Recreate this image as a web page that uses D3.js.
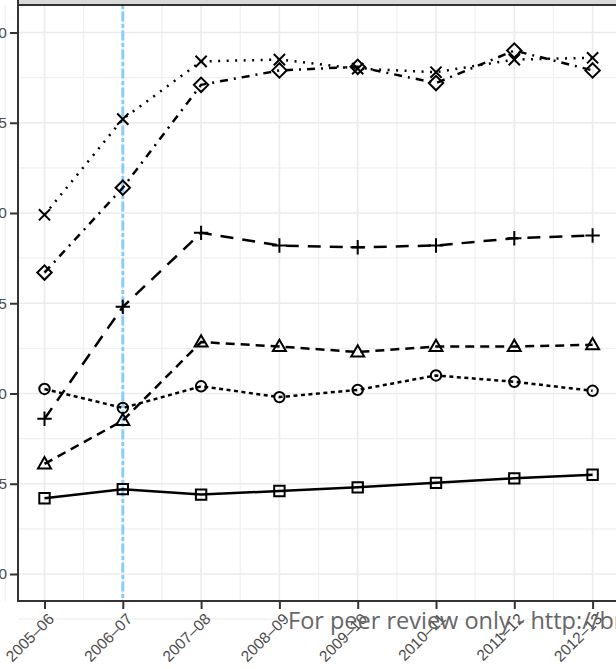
<!DOCTYPE html>
<html>
<head>
<meta charset="utf-8">
<script src="https://cdn.jsdelivr.net/npm/d3@7"></script>
<style>
  body { margin: 0; background: #fff; }
  svg { display: block; }
</style>
</head>
<body>
<script>
// data
var periods = ["2005–06", "2006–07", "2007–08", "2008–09", "2009–10", "2010–11", "2011–12", "2012–13"];
var yTicks = [0, 5, 10, 15, 20, 25, 30];
var markedPeriod = "2006–07";

var crossVals    = [19.9, 25.2, 28.4, 28.5, 28.0, 27.8, 28.5, 28.6];
var diamondVals  = [16.7, 21.4, 27.1, 27.9, 28.1, 27.2, 29.0, 27.9];
var plusVals     = [8.6, 14.8, 18.9, 18.2, 18.1, 18.2, 18.6, 18.75];
var triangleVals = [6.1, 8.5, 12.85, 12.6, 12.3, 12.6, 12.6, 12.7];
var circleVals   = [10.25, 9.2, 10.4, 9.8, 10.2, 11.0, 10.65, 10.15];
var squareVals   = [4.2, 4.7, 4.4, 4.6, 4.8, 5.05, 5.3, 5.5];

var watermark = "For peer review only - http://bmjopen.bmj.com/site/about/guidelines.xhtml";

window.onload = function(){

	var W = 616, H = 669;
	var panel = { left: 18, top: 5, bottom: 601 };
	var labelFont = "'Liberation Sans', Arial, sans-serif";

	var svg = d3.select("body").append("svg")
		.attr("width", W)
		.attr("height", H);

	var x = d3.scaleLinear().domain([0, periods.length - 1]).range([44.5, 592.6]);
	var y = d3.scaleLinear().domain([0, 30]).range([574, 32.5]);

	// minor gridlines at midpoints
	var minorX = d3.range(-0.5, periods.length + 0.5, 1);
	var minorY = d3.range(-2.5, 33, 5);

	var grid = svg.append("g");
	grid.selectAll("line.mx").data(minorX).enter().append("line")
		.attr("x1", function(d){ return x(d); }).attr("x2", function(d){ return x(d); })
		.attr("y1", panel.top).attr("y2", panel.bottom)
		.attr("stroke", "#f0f0f0").attr("stroke-width", 1.2);
	grid.selectAll("line.my").data(minorY).enter().append("line")
		.attr("y1", function(d){ return y(d); }).attr("y2", function(d){ return y(d); })
		.attr("x1", panel.left).attr("x2", W)
		.attr("stroke", "#f0f0f0").attr("stroke-width", 1.2);
	grid.selectAll("line.gx").data(periods).enter().append("line")
		.attr("x1", function(d, i){ return x(i); }).attr("x2", function(d, i){ return x(i); })
		.attr("y1", panel.top).attr("y2", panel.bottom)
		.attr("stroke", "#ebebeb").attr("stroke-width", 1.6);
	grid.selectAll("line.gy").data(yTicks).enter().append("line")
		.attr("y1", function(d){ return y(d); }).attr("y2", function(d){ return y(d); })
		.attr("x1", panel.left).attr("x2", W)
		.attr("stroke", "#ebebeb").attr("stroke-width", 1.6);

	// marked year
	var mi = periods.indexOf(markedPeriod);
	svg.append("line")
		.attr("x1", x(mi)).attr("x2", x(mi))
		.attr("y1", panel.top).attr("y2", panel.bottom)
		.attr("stroke", "#87cefa").attr("stroke-width", 3)
		.attr("stroke-dasharray", "4 2.5 10 2.5");

	var series = [
		{ vals: squareVals,   shape: "square",   dash: null },
		{ vals: circleVals,   shape: "circle",   dash: "4 3.5" },
		{ vals: triangleVals, shape: "triangle", dash: "9 6" },
		{ vals: plusVals,     shape: "plus",     dash: "13 9" },
		{ vals: diamondVals,  shape: "diamond",  dash: "8 6 2 6" },
		{ vals: crossVals,    shape: "cross",    dash: "2 6.5" }
	];

	var line = d3.line()
		.x(function(d, i){ return x(i); })
		.y(function(d){ return y(d); });

	var shapes = {
		square:   "M-5.2,-5.2H5.2V5.2H-5.2Z",
		circle:   "M5.2,0A5.2,5.2 0 1,1 -5.2,0A5.2,5.2 0 1,1 5.2,0Z",
		triangle: "M0,-6.8L6.5,4.5H-6.5Z",
		plus:     "M-7.2,0H7.2M0,-7.2V7.2",
		diamond:  "M0,-7.2L7.2,0L0,7.2L-7.2,0Z",
		cross:    "M-5.6,-5.6L5.6,5.6M-5.6,5.6L5.6,-5.6"
	};

	series.forEach(function(s){
		svg.append("path")
			.datum(s.vals)
			.attr("d", line)
			.attr("fill", "none")
			.attr("stroke", "#000")
			.attr("stroke-width", 2.5)
			.attr("stroke-dasharray", s.dash);
		svg.append("g").selectAll("path").data(s.vals).enter().append("path")
			.attr("transform", function(d, i){ return "translate(" + x(i) + "," + y(d) + ")"; })
			.attr("d", shapes[s.shape])
			.attr("fill", "none")
			.attr("stroke", "#000")
			.attr("stroke-width", 2);
	});

	// panel border + strip
	svg.append("rect")
		.attr("x", panel.left).attr("y", -10)
		.attr("width", W).attr("height", 15)
		.attr("fill", "#d9d9d9").attr("stroke", "#333").attr("stroke-width", 2);
	svg.append("line")
		.attr("x1", panel.left).attr("x2", panel.left)
		.attr("y1", 0).attr("y2", panel.bottom + 1)
		.attr("stroke", "#333").attr("stroke-width", 2);
	svg.append("line")
		.attr("x1", panel.left - 1).attr("x2", W)
		.attr("y1", panel.bottom).attr("y2", panel.bottom)
		.attr("stroke", "#333").attr("stroke-width", 2);

	// y axis (labels run off the left edge, as in the source crop)
	var yAxis = d3.axisLeft(y).tickValues(yTicks).tickSize(7).tickPadding(3);
	var gy = svg.append("g")
		.attr("transform", "translate(" + (panel.left - 1) + ",0)")
		.call(yAxis);
	gy.select(".domain").remove();
	gy.selectAll(".tick line").attr("stroke", "#333").attr("stroke-width", 2);
	gy.selectAll(".tick text")
		.attr("fill", "#4d4d4d")
		.style("font-family", labelFont)
		.style("font-size", "15.5px");

	// x axis
	var xAxis = d3.axisBottom(x)
		.tickValues(d3.range(periods.length))
		.tickFormat(function(i){ return periods[i]; })
		.tickSize(7);
	var gx = svg.append("g")
		.attr("transform", "translate(0," + (panel.bottom + 1) + ")")
		.call(xAxis);
	gx.select(".domain").remove();
	gx.selectAll(".tick line").attr("stroke", "#333").attr("stroke-width", 2);
	gx.selectAll(".tick text")
		.attr("fill", "#4d4d4d")
		.style("font-family", labelFont)
		.style("font-size", "15.5px")
		.attr("text-anchor", "end")
		.attr("x", 0).attr("y", 0).attr("dy", 0)
		.attr("transform", "translate(10,18) rotate(-45)");

	// watermark
	svg.append("text")
		.attr("x", 288).attr("y", 629)
		.attr("fill", "#666")
		.style("font-family", "'Open Sans', sans-serif")
		.style("font-size", "23.5px")
		.text(watermark);
};
</script>
</body>
</html>
